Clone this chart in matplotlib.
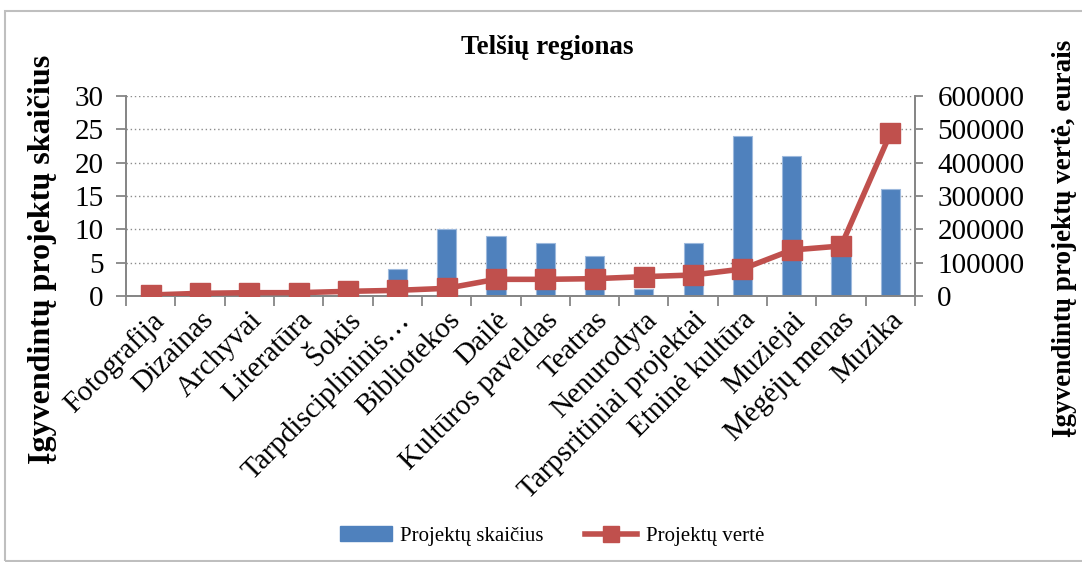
import matplotlib.pyplot as plt
import matplotlib.patches as mpatches
import numpy as np

plt.rcParams["font.family"] = ["Liberation Serif", "DejaVu Serif"]

categories = ["Fotografija", "Dizainas", "Archyvai", "Literatūra", "Šokis",
              "Tarpdisciplininis…", "Bibliotekos", "Dailė", "Kultūros paveldas",
              "Teatras", "Nenurodyta", "Tarpsritiniai projektai", "Etninė kultūra",
              "Muziejai", "Mėgėjų menas", "Muzika"]
project_counts = [0, 0, 0, 0, 0, 4, 10, 9, 8, 6, 1, 8, 24, 21, 7, 16]
project_values = [3000, 8000, 10000, 10000, 14000, 17000, 23000, 50000, 50000,
                  52000, 58000, 63000, 81000, 138000, 150000, 488000]

bar_color = "#4F81BD"
line_color = "#C0504D"
axis_gray = "#868686"

fig = plt.figure(figsize=(10.82, 5.62), dpi=100)
ax = fig.add_axes([0.1165, 0.4733, 0.7292, 0.3559])
ax2 = ax.twinx()

x = np.arange(len(categories))
ax.bar(x, project_counts, width=0.39, color=bar_color, edgecolor="#9DB9DD",
       linewidth=0.8, zorder=2, label="Projektų skaičius")
ax2.plot(x, project_values, color=line_color, lw=4, marker="s", ms=14,
         mec=line_color, zorder=3, label="Projektų vertė")

ax.set_xlim(-0.5, len(categories) - 0.5)
ax.set_ylim(0, 30)
ax.set_yticks(range(0, 31, 5))
ax2.set_ylim(0, 600000)
ax2.set_yticks(range(0, 600001, 100000))
ax2.set_yticklabels([str(v) for v in range(0, 600001, 100000)])

ax.yaxis.grid(True, linestyle=(0, (1, 2)), color="#8C8C8C", lw=1.0, zorder=0)
ax.set_axisbelow(True)

# category ticks sit on the boundaries between columns
ax.set_xticks(np.arange(-0.5, len(categories), 1.0), minor=False)
ax.set_xticklabels([])
ax.set_xticks(x, minor=True)
ax.set_xticklabels(categories, minor=True, rotation=45, ha="right",
                   rotation_mode="anchor", fontsize=21)
ax.tick_params(axis="x", which="minor", length=0, pad=8)
ax.tick_params(axis="x", which="major", length=7, color=axis_gray, width=1.3)
ax.tick_params(axis="y", length=7, color=axis_gray, width=1.3, labelsize=21, pad=9)
ax2.tick_params(axis="y", length=6, color=axis_gray, width=1.3, labelsize=21, pad=10)

for a in (ax, ax2):
    a.spines["top"].set_visible(False)
    for side in ("left", "right", "bottom"):
        a.spines[side].set_color(axis_gray)
        a.spines[side].set_linewidth(1.3)

fig.text(0.506, 0.916, "Telšių regionas", fontsize=19.5, fontweight="bold",
         ha="center", va="center")
fig.text(0.039, 0.539, "Įgyvendintų projektų skaičius", rotation=90,
         fontsize=23, fontweight="bold", ha="center", va="center")
fig.text(0.984, 0.575, "Įgyvendintų projektų vertė, eurais", rotation=90,
         fontsize=19.5, fontweight="bold", ha="center", va="center")

handles = [mpatches.Patch(color=bar_color),
           plt.Line2D([], [], color=line_color, lw=4, marker="s", ms=11)]
fig.legend(handles, ["Projektų skaičius", "Projektų vertė"],
           loc="center", bbox_to_anchor=(0.51, 0.046), ncol=2, frameon=False,
           fontsize=15, handlelength=2.5, columnspacing=2.0, handletextpad=0.4)

# outer chart border
fig.add_artist(mpatches.Rectangle((0.005, 0.002), 0.998, 0.978,
                                  transform=fig.transFigure, fill=False,
                                  edgecolor="#BFBFBF", lw=1.5))

fig.savefig("out.png", dpi=100)
